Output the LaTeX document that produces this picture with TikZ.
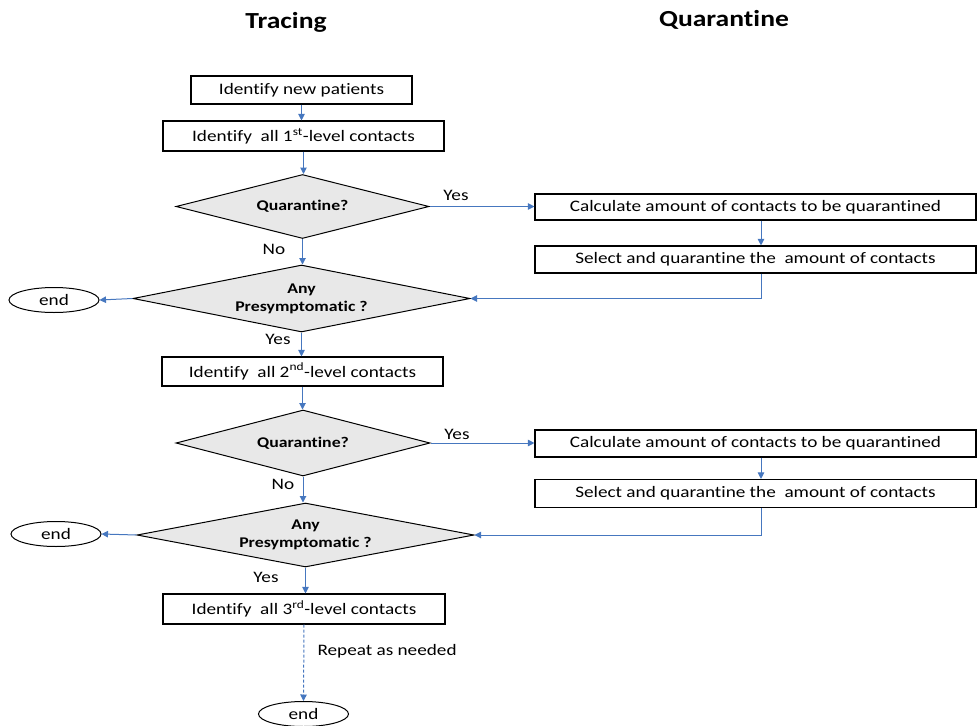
\documentclass[tikz,border=0pt]{standalone}
\usepackage{fontspec}
\setmainfont{Carlito}[FakeStretch=1.2,Ligatures=NoCommon]
\usetikzlibrary{shapes.geometric,arrows.meta}
\definecolor{connblue}{HTML}{4677BF}
\definecolor{dfill}{HTML}{E8E8E8}
\begin{document}
\begin{tikzpicture}[x=1pt,y=-1pt,
  box/.style={draw=black, line width=1.1pt, fill=white, inner sep=0pt,
    font=\fontsize{16}{19}\selectfont},
  dia/.style={diamond, draw=black, line width=1pt, fill=dfill, aspect=4, inner sep=0pt,
    align=center, font=\bfseries\fontsize{14.8}{18}\selectfont},
  endnode/.style={ellipse, draw=black, line width=1pt, fill=white, inner sep=0pt,
    minimum width=90pt, minimum height=25pt, font=\fontsize{16}{19}\selectfont},
  arr/.style={draw=connblue, line width=1pt, -{Triangle[length=6.5pt,width=6.5pt]}},
  lbl/.style={font=\fontsize{16}{19}\selectfont},
  ttl/.style={font=\bfseries\fontsize{23}{27}\selectfont}]
\useasboundingbox (0,0) rectangle (978,726);

\node[ttl] (t1) at (286,22) {Tracing};
\node[ttl] (t2) at (724,20) {Quarantine};

\node[box, minimum width=221pt, minimum height=28pt] (b1) at (301.5,90) {Identify new patients};
\node[box, minimum width=281pt, minimum height=30pt] (b2) at (303.5,136) {Identify\ \ all 1\textsuperscript{st}-level contacts};
\node[dia, minimum width=253pt, minimum height=64pt] (d1) at (302.5,206.5) {Quarantine?};
\node[dia, minimum width=337pt, minimum height=67pt] (d2) at (301.5,298.5) {Any\\Presymptomatic ?};
\node[endnode] (e1) at (54,300) {end};

\node[box, minimum width=441pt, minimum height=26pt] (b3) at (755.5,207) {Calculate amount of contacts to be quarantined};
\node[box, minimum width=441pt, minimum height=27pt] (b4) at (755.5,259.5) {Select and quarantine the\ \ amount of contacts};

\node[box, minimum width=281pt, minimum height=29pt] (b5) at (302.5,371.5) {Identify\ \ all 2\textsuperscript{nd}-level contacts};
\node[dia, minimum width=254pt, minimum height=66pt] (d3) at (303,443) {Quarantine?};
\node[dia, minimum width=337pt, minimum height=64pt] (d4) at (305.5,535) {Any\\Presymptomatic ?};
\node[endnode] (e2) at (56,534) {end};

\node[box, minimum width=441pt, minimum height=27pt] (b6) at (755.5,443.5) {Calculate amount of contacts to be quarantined};
\node[box, minimum width=441pt, minimum height=28pt] (b7) at (755.5,493.5) {Select and quarantine the\ \ amount of contacts};

\node[box, minimum width=282pt, minimum height=30pt] (b8) at (304,609) {Identify\ \ all 3\textsuperscript{rd}-level contacts};
\node[endnode] (e3) at (303.5,714) {end};

% connectors, level 1
\draw[arr] (b1.south) -- (b1.south |- b2.north);
\draw[arr] (b2.south) -- (b2.south |- d1.north);
\draw[arr] (d1.east) -- (d1.east -| b3.west);
\node[lbl] (y1) at (456,195) {Yes};
\draw[arr] (d1.south) -- (d1.south |- d2.north);
\node[lbl] (n1) at (274,249) {No};
\draw[arr] ([xshift=5.5pt]b3.south) -- ([xshift=5.5pt]b4.north);
\draw[arr] ([xshift=5.5pt]b4.south) |- (d2.east);
\draw[arr] (d2.west) -- (e1.east);
\draw[arr] (d2.south) -- (d2.south |- b5.north);
\node[lbl] (y2) at (278,339) {Yes};

% level 2
\draw[arr] (b5.south) -- (b5.south |- d3.north);
\draw[arr] (d3.east) -- (d3.east -| b6.west);
\node[lbl] (y3) at (457,434) {Yes};
\draw[arr] (d3.south) -- (d3.south |- d4.north);
\node[lbl] (n2) at (283,484) {No};
\draw[arr] ([xshift=5.5pt]b6.south) -- ([xshift=5.5pt]b7.north);
\draw[arr] ([xshift=5.5pt]b7.south) |- (d4.east);
\draw[arr] (d4.west) -- (e2.east);
\draw[arr] (d4.south) -- (d4.south |- b8.north);
\node[lbl] (y4) at (266,577) {Yes};

% level 3
\draw[arr, dash pattern=on 3pt off 2pt] (b8.south) -- (e3.north);
\node[lbl, anchor=west] (rep) at (314,651) {Repeat as needed};
\end{tikzpicture}
\end{document}
